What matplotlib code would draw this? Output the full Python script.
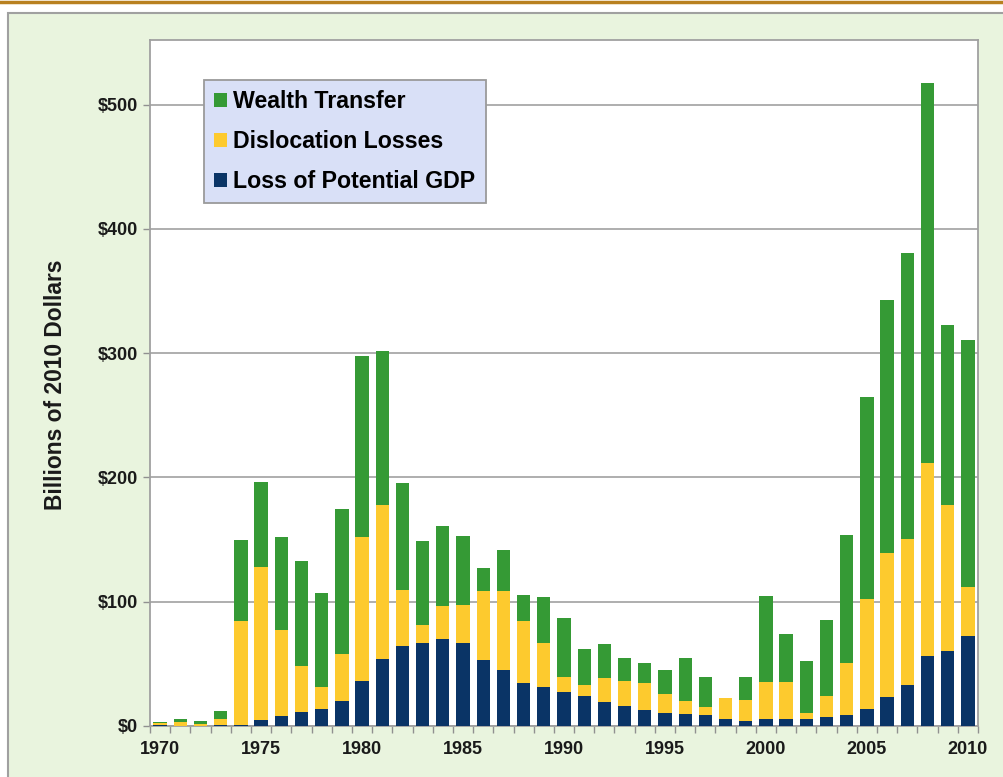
import matplotlib
matplotlib.use("Agg")
import matplotlib.pyplot as plt
from matplotlib.patches import Rectangle
from matplotlib.lines import Line2D
import numpy as np

years = list(range(1970, 2011))

loss_gdp = [0.5, 0.3, 0.3, 0.5, 1, 5, 8, 11, 14, 20,
            36, 54, 64, 66.5, 70, 66.5, 53, 45, 35, 31,
            27.6, 24.4, 19.6, 16.3, 12.9, 10.7, 9.9, 9.1, 5.6, 4.3,
            5.4, 5.4, 5.4, 7.5, 9, 13.4, 23, 33, 56, 60, 72.6]
dislocation = [2, 3.2, 1.7, 5.1, 83.5, 123, 69, 37.5, 17, 38,
               116, 123.5, 45.5, 15, 26.5, 31, 56, 63.6, 49.5, 36,
               12, 8.6, 18.8, 19.7, 21.9, 14.8, 10.1, 6.4, 17.2, 16.6,
               30.3, 30.3, 4.8, 17, 42, 88.5, 116, 117.4, 155.5, 117.5, 39.4]
wealth = [0.7, 2.1, 1.8, 6.2, 65.5, 68.5, 75, 84.2, 76, 116.6,
          146, 124.4, 86.2, 67.3, 64.5, 55.7, 18.4, 33, 20.9, 36.5,
          47.5, 29, 27.3, 18.7, 15.6, 19.5, 34.7, 23.7, 0, 18.3,
          69, 38, 42.1, 60.9, 102.7, 163, 203.7, 230.4, 305.5, 145.2, 198.5]

series_names = ["Wealth Transfer", "Dislocation Losses", "Loss of Potential GDP"]
ytick_values = [0, 100, 200, 300, 400, 500]
ytick_labels = ["$0", "$100", "$200", "$300", "$400", "$500"]
xtick_years = [1970, 1975, 1980, 1985, 1990, 1995, 2000, 2005, 2010]
ylabel = "Billions of 2010 Dollars"

c_green = "#359a35"
c_yellow = "#fdca2e"
c_navy = "#0a3466"
c_panel = "#e9f4de"
c_grid = "#a8a8a8"

plt.rcParams['font.family'] = ['Liberation Sans', 'DejaVu Sans']
plt.rcParams['font.weight'] = 'bold'

fig = plt.figure(figsize=(10.04, 7.77), dpi=100, facecolor='white')
W, H = 1004, 777

# outer green panel and top rule
panel = Rectangle((8 / W, -0.05), 1.1, 1 - 13 / H + 0.05,
                  transform=fig.transFigure, facecolor=c_panel,
                  edgecolor='#a0a0a0', linewidth=1.5, zorder=-10)
fig.patches.append(panel)
fig.lines.append(Line2D([0, 1], [1 - 1.5 / H, 1 - 1.5 / H], transform=fig.transFigure,
                        color='#b8801f', linewidth=2.5, zorder=-9))

ax = fig.add_axes([150 / W, 1 - 726 / H, (978 - 150) / W, (726 - 40) / H])
ax.set_zorder(2)
ax.set_facecolor('white')

x = np.array(years)
w = 0.66
b_navy = ax.bar(x, loss_gdp, width=w, color=c_navy, zorder=3)
bottom2 = np.array(loss_gdp)
b_yellow = ax.bar(x, dislocation, width=w, bottom=bottom2, color=c_yellow, zorder=3)
bottom3 = bottom2 + np.array(dislocation)
b_green = ax.bar(x, wealth, width=w, bottom=bottom3, color=c_green, zorder=3)

ax.set_xlim(years[0] - 0.5, years[-1] + 0.5)
ax.set_ylim(0, 552)

ax.set_yticks(ytick_values)
ax.set_yticklabels(ytick_labels)
ax.yaxis.grid(True, color=c_grid, linewidth=1.3, zorder=1)
ax.set_axisbelow(True)

ax.set_xticks(xtick_years)
ax.set_xticklabels([str(y) for y in xtick_years])
ax.set_xticks(np.arange(years[0] - 0.5, years[-1] + 1.0, 1.0), minor=True)
ax.tick_params(axis='x', which='major', length=0, pad=11, labelsize=13, colors='#1a1a1a')
ax.tick_params(axis='x', which='minor', length=5, width=1, color='#909090')
ax.tick_params(axis='y', which='major', length=5, width=1, color='#909090',
               pad=3.5, labelsize=13, labelcolor='#1a1a1a')

for s in ax.spines.values():
    s.set_color('#a0a0a0')
    s.set_linewidth(1.3)

ax.set_ylabel(ylabel, fontsize=16.4, fontweight='bold', color='#1a1a1a')
ax.yaxis.set_label_coords(-0.1145, 0.497)
ax.yaxis.label.set_va('center')

leg = ax.legend([b_green, b_yellow, b_navy], series_names,
                loc='upper left', bbox_to_anchor=((204 - 150) / 828, (726 - 80) / 686),
                borderaxespad=0, frameon=True, fancybox=False,
                facecolor='#d9e0f7', edgecolor='#9a9a9a', framealpha=1,
                prop={'size': 16.7, 'weight': 'bold'},
                handlelength=0.55, handleheight=0.55, handletextpad=0.25,
                labelspacing=0.72, borderpad=0.45)
leg.get_frame().set_linewidth(1.3)
leg.set_zorder(5)

fig.savefig("out.png", dpi=100, facecolor='white')
